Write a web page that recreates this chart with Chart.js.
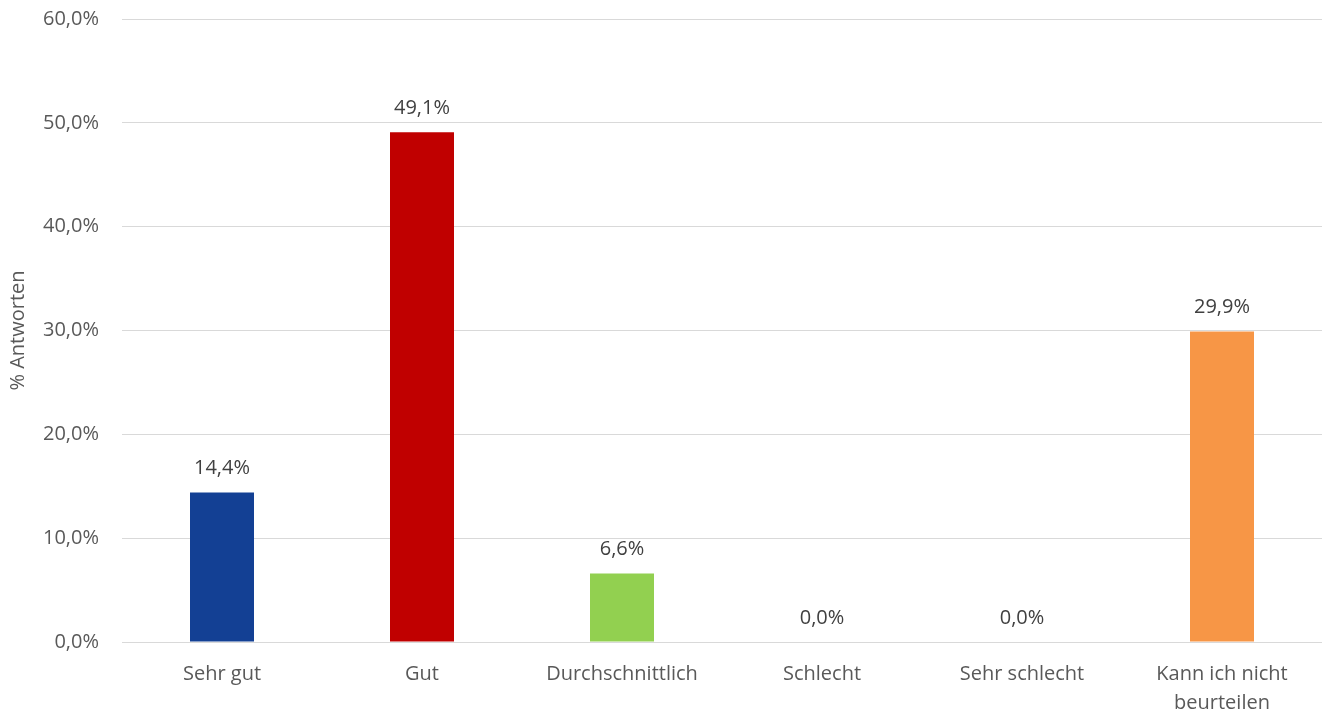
<!DOCTYPE html>
<html>
<head>
<meta charset="utf-8">
<script src="https://cdn.jsdelivr.net/npm/chart.js@4"></script>
<style>
html,body{margin:0;padding:0;background:#fff;overflow:hidden;}
#wrap{width:1322px;height:713px;position:relative;overflow:hidden;}
#c{position:absolute;left:0;top:-16px;}
</style>
</head>
<body>
<div id="wrap"><canvas id="c" width="1322" height="744"></canvas></div>
<script>
const categories = ["Sehr gut", "Gut", "Durchschnittlich", "Schlecht", "Sehr schlecht", ["Kann ich nicht", "beurteilen"]];
const values = [14.4, 49.1, 6.6, 0.0, 0.0, 29.9];
const barColors = ["#134094", "#C00000", "#92D050", "#A5A5A5", "#5B9BD5", "#F79646"];
const yTicks = [0, 10, 20, 30, 40, 50, 60];
const axisTitle = "% Antworten";

const fmt = v => v.toFixed(1).replace('.', ',') + '%';
const FONT = "'Open Sans', 'Noto Sans', sans-serif";

const labelPlugin = {
  id: 'dataLabels',
  afterDatasetsDraw(chart) {
    const ctx = chart.ctx;
    const meta = chart.getDatasetMeta(0);
    ctx.save();
    ctx.font = "20px " + FONT;
    ctx.fillStyle = "#404040";
    ctx.textAlign = "center";
    ctx.textBaseline = "middle";
    meta.data.forEach((bar, i) => {
      ctx.fillText(fmt(values[i]), bar.x, bar.y - 24);
    });
    ctx.restore();
  }
};

new Chart(document.getElementById('c'), {
  type: 'bar',
  data: {
    labels: categories,
    datasets: [{
      data: values,
      backgroundColor: barColors,
      categoryPercentage: 1.0,
      barPercentage: 0.32
    }]
  },
  options: {
    responsive: false,
    animation: false,
    layout: { padding: { top: -8, right: 0, left: 0, bottom: 0 } },
    plugins: { legend: { display: false }, tooltip: { enabled: false } },
    scales: {
      x: {
        grid: { display: false },
        border: { display: true, color: "#D9D9D9", width: 1 },
        ticks: { color: "#595959", font: { size: 20, family: FONT, lineHeight: 1.45 }, maxRotation: 0, autoSkip: false, padding: 10 }
      },
      y: {
        min: 0, max: 60,
        afterBuildTicks: axis => { axis.ticks = yTicks.map(v => ({ value: v })); },
        afterFit: axis => { axis.width = 122; },
        grid: { color: "#D9D9D9", lineWidth: 1, drawTicks: false },
        border: { display: false },
        ticks: { color: "#595959", font: { size: 20, family: FONT }, padding: 23, callback: v => fmt(v) },
        title: { display: true, text: axisTitle, color: "#595959", font: { size: 20, family: FONT }, padding: { top: 6, bottom: 0 } }
      }
    }
  },
  plugins: [labelPlugin]
});
</script>
</body>
</html>
